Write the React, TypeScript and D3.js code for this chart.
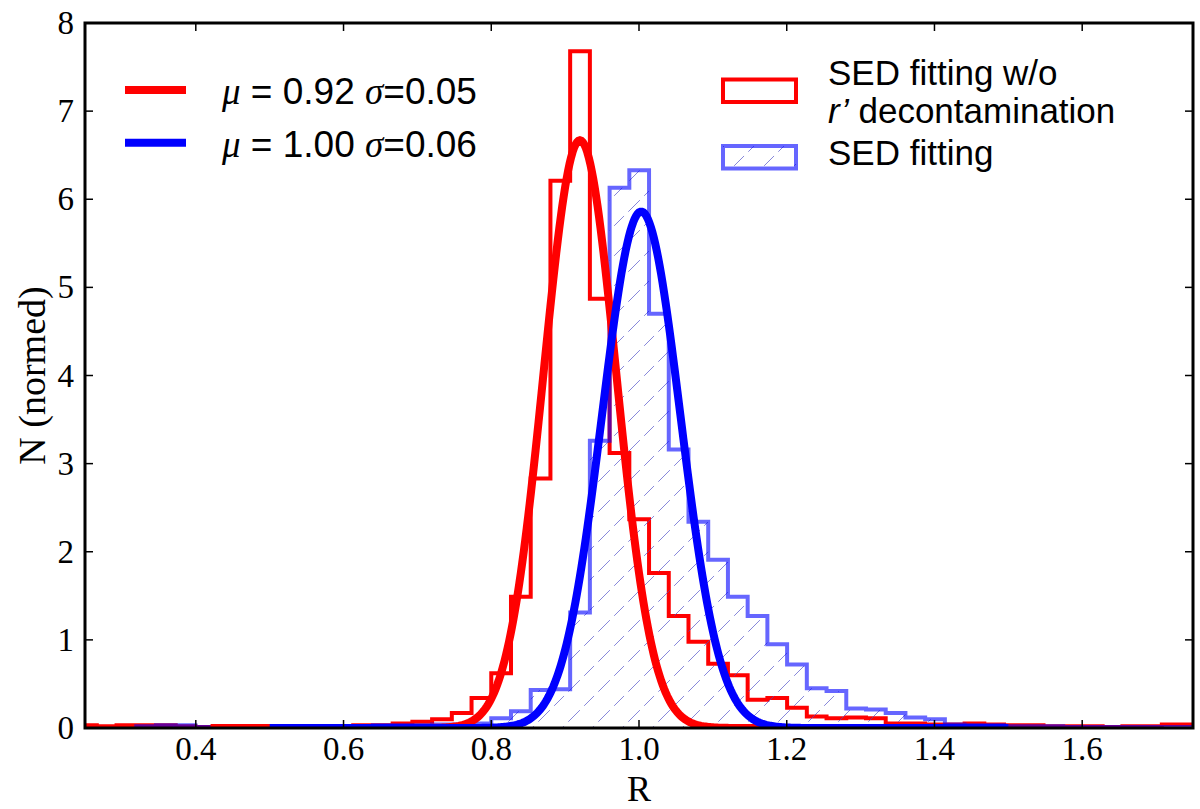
import * as d3 from 'd3';

// histogram bins (R values)
const binStart = 0.2393;
const binWidth = 0.0267;

// red: SED fitting w/o r' decontamination (starts at bin 0)
const redCounts = [
  0.03, 0.02, 0.03, 0.03, 0.03, 0.02, 0.01, 0.02, 0.01, 0.02,
  0.01, 0.02, 0.02, 0.02, 0.03, 0.03, 0.05, 0.07, 0.10, 0.17,
  0.34, 0.62, 1.49, 2.83, 6.21, 7.68, 4.87, 3.12, 2.37, 1.76,
  1.27, 0.98, 0.73, 0.60, 0.32, 0.34, 0.23, 0.13, 0.11, 0.12,
  0.11, 0.05, 0.05, 0.04, 0.04, 0.05, 0.04, 0.03, 0.03, 0.02,
  0.02, 0.02, 0.01, 0.02, 0.02, 0.04, 0.04,
];

// blue: SED fitting (starts at bin 3)
const blueFirstBin = 3;
const blueCounts = [
  0.02, 0.03, 0.03, 0.01, 0.01, 0.01, 0.01, 0.01, 0.01, 0.01,
  0.02, 0.02, 0.03, 0.03, 0.03, 0.04, 0.04, 0.05, 0.11, 0.19,
  0.43, 0.44, 1.31, 3.26, 6.13, 6.33, 4.70, 3.16, 2.34, 1.91,
  1.49, 1.27, 0.95, 0.72, 0.45, 0.42, 0.22, 0.21, 0.17, 0.12,
  0.10, 0.04, 0.03, 0.03, 0.02, 0.02, 0.02, 0.01, 0.01, 0.01,
  0.01, 0.01, 0.01, 0.01,
];

// gaussian fits as drawn
const fitMu = [0.92, 1.003];
const fitWidth = [0.049, 0.053];
const fitPeak = [6.67, 5.86];
const fitFrom = [0.42, 0.5];
const fitTo = [1.42, 1.5];
const fitColors = ['#ff0000', '#0000ff'];
const fitMuText = ['0.92', '1.00'];
const fitSigmaText = ['0.05', '0.06'];

const xTicks = [0.4, 0.6, 0.8, 1.0, 1.2, 1.4, 1.6];
const yTicks = [0, 1, 2, 3, 4, 5, 6, 7, 8];

const W = 1200;
const H = 809;
const margin = { top: 23, right: 7, bottom: 81, left: 85 };

const serif = '"Liberation Serif", "DejaVu Serif", serif';
const sans = '"Liberation Sans", Arial, sans-serif';

export default function App() {
  const x = d3.scaleLinear().domain([0.25, 1.75]).range([margin.left, W - margin.right]);
  const y = d3.scaleLinear().domain([0, 8]).range([H - margin.bottom, margin.top]);

  const stepLine = d3
    .line<[number, number]>()
    .x((d) => x(d[0]))
    .y((d) => y(d[1]))
    .curve(d3.curveStepAfter);

  const histPath = (counts: number[], first: number) => {
    const pts: [number, number][] = [[binStart + first * binWidth, 0]];
    counts.forEach((v, i) => pts.push([binStart + (first + i) * binWidth, v]));
    const end = binStart + (first + counts.length) * binWidth;
    pts.push([end, counts[counts.length - 1]]);
    pts.push([end, 0]);
    return stepLine(pts) || '';
  };

  const curve = d3
    .line<[number, number]>()
    .x((d) => x(d[0]))
    .y((d) => y(d[1]));

  const gaussPath = (k: number) => {
    const pts: [number, number][] = d3
      .range(fitFrom[k], fitTo[k] + 1e-9, 0.002)
      .map((r) => [r, fitPeak[k] * Math.exp(-0.5 * ((r - fitMu[k]) / fitWidth[k]) ** 2)]);
    return curve(pts) || '';
  };

  const x0 = margin.left;
  const x1 = W - margin.right;
  const y0 = H - margin.bottom;
  const y1 = margin.top;

  return (
    <svg width={W} height={H} style={{ position: 'absolute', left: 0, top: 0, background: '#fff' }}>
      <defs>
        <clipPath id="plot">
          <rect x={x0} y={y1} width={x1 - x0} height={y0 - y1} />
        </clipPath>
        <pattern id="hatch" patternUnits="userSpaceOnUse" width={30} height={30}>
          <path
            d="M0,30 L30,0 M-8,8 L8,-8 M22,38 L38,22"
            stroke="#4a4ac8"
            strokeWidth={0.9}
            strokeOpacity={0.75}
            strokeDasharray="14 6"
          />
        </pattern>
      </defs>

      <g clipPath="url(#plot)">
        <path d={histPath(redCounts, 0)} fill="none" stroke="#ff0000" strokeWidth={4} strokeLinejoin="miter" />
        <path d={histPath(blueCounts, blueFirstBin)} fill="url(#hatch)" stroke="#0000ff" strokeOpacity={0.6} strokeWidth={4} />
        {fitMu.map((_, k) => (
          <path key={k} d={gaussPath(k)} fill="none" stroke={fitColors[k]} strokeWidth={8} strokeLinecap="butt" />
        ))}
      </g>

      {/* frame */}
      <rect x={x0} y={y1} width={x1 - x0} height={y0 - y1} fill="none" stroke="#000" strokeWidth={3} />

      {/* x ticks */}
      {xTicks.map((t) => (
        <g key={t}>
          <line x1={x(t)} x2={x(t)} y1={y0} y2={y0 - 8} stroke="#000" strokeWidth={1.5} />
          <line x1={x(t)} x2={x(t)} y1={y1} y2={y1 + 8} stroke="#000" strokeWidth={1.5} />
          <text x={x(t)} y={760} textAnchor="middle" fontFamily={serif} fontSize={33}>
            {t.toFixed(1)}
          </text>
        </g>
      ))}

      {/* y ticks */}
      {yTicks.map((t) => (
        <g key={t}>
          <line x1={x0} x2={x0 + 8} y1={y(t)} y2={y(t)} stroke="#000" strokeWidth={1.5} />
          <line x1={x1} x2={x1 - 8} y1={y(t)} y2={y(t)} stroke="#000" strokeWidth={1.5} />
          <text x={74} y={y(t) + 11} textAnchor="end" fontFamily={serif} fontSize={33}>
            {t}
          </text>
        </g>
      ))}

      {/* axis labels */}
      <text x={(x0 + x1) / 2} y={801} textAnchor="middle" fontFamily={serif} fontSize={36}>
        R
      </text>
      <text
        transform={`translate(45,${(y0 + y1) / 2}) rotate(-90)`}
        textAnchor="middle"
        fontFamily={serif}
        fontSize={38}
      >
        N (normed)
      </text>

      {/* legend: fits */}
      {fitMu.map((_, k) => (
        <g key={k}>
          <line x1={125} x2={186} y1={90 + k * 52.7} y2={90 + k * 52.7} stroke={fitColors[k]} strokeWidth={8} />
          <text x={222} y={104 + k * 53} fontFamily={sans} fontSize={37}>
            <tspan fontFamily={serif} fontStyle="italic">μ</tspan>
            <tspan> = {fitMuText[k]} </tspan>
            <tspan fontFamily={serif} fontStyle="italic">σ</tspan>
            <tspan>={fitSigmaText[k]}</tspan>
          </text>
        </g>
      ))}

      {/* legend: histograms */}
      <rect x={723} y={79.5} width={73} height={22.5} fill="none" stroke="#ff0000" strokeWidth={4} />
      <rect x={723} y={146} width={73} height={22.5} fill="url(#hatch)" stroke="#0000ff" strokeOpacity={0.6} strokeWidth={4} />
      <text x={828} y={85} fontFamily={sans} fontSize={35}>
        SED fitting w/o
      </text>
      <text x={828} y={123} fontFamily={sans} fontSize={35}>
        <tspan fontStyle="italic">r’</tspan>
        <tspan> decontamination</tspan>
      </text>
      <text x={828} y={165} fontFamily={sans} fontSize={35}>
        SED fitting
      </text>
    </svg>
  );
}
